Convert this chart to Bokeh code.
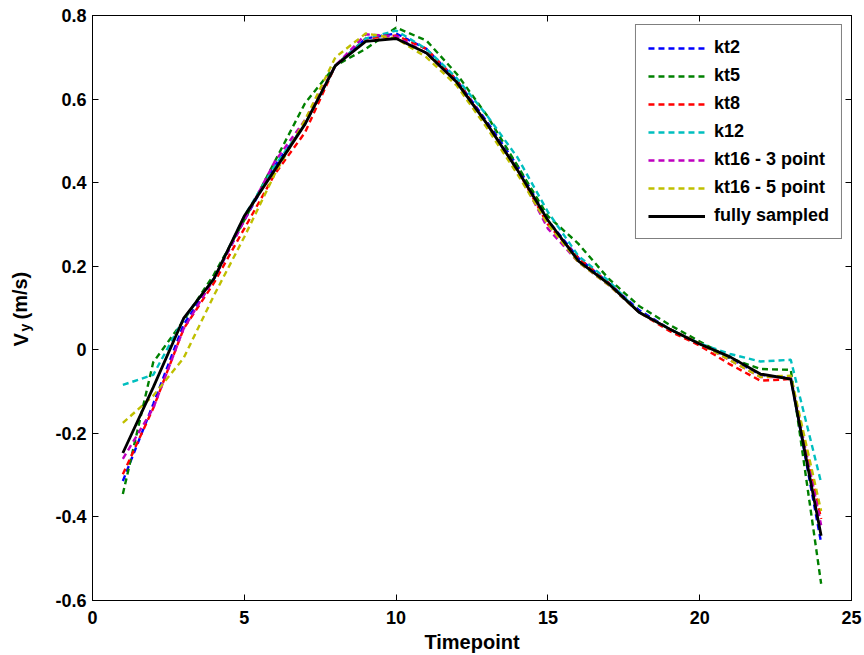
from bokeh.plotting import figure
from bokeh.layouts import row
from bokeh.models import (Legend, LegendItem, LinearAxis, FixedTicker, Range1d,
                          CustomJSTickFormatter, Label)
from bokeh.embed import file_html
from bokeh.resources import INLINE

timepoints = list(range(1, 25))
fully_sampled = [-0.247, -0.09, 0.075, 0.17, 0.32, 0.43, 0.54, 0.68, 0.738, 0.745, 0.71, 0.64,
                 0.54, 0.43, 0.31, 0.213, 0.158, 0.09, 0.05, 0.014, -0.017, -0.058, -0.07, -0.445]
kt2 = [-0.314, -0.13, 0.06, 0.17, 0.31, 0.44, 0.54, 0.68, 0.745, 0.757, 0.72, 0.645,
       0.545, 0.44, 0.31, 0.22, 0.16, 0.095, 0.05, 0.015, -0.02, -0.06, -0.068, -0.462]
kt5 = [-0.345, -0.03, 0.07, 0.18, 0.31, 0.45, 0.59, 0.68, 0.72, 0.771, 0.74, 0.66,
       0.56, 0.44, 0.32, 0.254, 0.17, 0.105, 0.06, 0.02, -0.02, -0.046, -0.048, -0.56]
kt8 = [-0.298, -0.14, 0.05, 0.16, 0.29, 0.42, 0.52, 0.68, 0.745, 0.752, 0.72, 0.645,
       0.54, 0.43, 0.30, 0.22, 0.16, 0.09, 0.045, 0.01, -0.035, -0.074, -0.07, -0.405]
k12 = [-0.084, -0.06, 0.074, 0.17, 0.32, 0.44, 0.54, 0.68, 0.745, 0.764, 0.72, 0.65,
       0.56, 0.46, 0.33, 0.225, 0.165, 0.09, 0.05, 0.015, -0.01, -0.028, -0.024, -0.318]
kt16_3 = [-0.261, -0.14, 0.05, 0.17, 0.31, 0.45, 0.55, 0.68, 0.755, 0.75, 0.71, 0.64,
          0.54, 0.43, 0.29, 0.21, 0.155, 0.09, 0.05, 0.015, -0.025, -0.065, -0.065, -0.42]
kt16_5 = [-0.175, -0.11, -0.02, 0.13, 0.27, 0.42, 0.55, 0.70, 0.757, 0.745, 0.70, 0.632,
          0.53, 0.42, 0.30, 0.21, 0.155, 0.09, 0.05, 0.015, -0.025, -0.065, -0.062, -0.386]

series_names = ["kt2", "kt5", "kt8", "k12", "kt16 - 3 point", "kt16 - 5 point", "fully sampled"]
series_values = [kt2, kt5, kt8, k12, kt16_3, kt16_5, fully_sampled]
series_colors = ["#0000FF", "#008000", "#FF0000", "#00BFBF", "#BF00BF", "#BFBF00", "#000000"]

x_ticks = [0, 5, 10, 15, 20, 25]
y_ticks = [-0.6, -0.4, -0.2, 0, 0.2, 0.4, 0.6, 0.8]

FONT = "Liberation Sans"
LEFT_W = 50

p = figure(width=864 - LEFT_W, height=655, output_backend="svg", toolbar_location=None,
           x_range=Range1d(0, 25), y_range=Range1d(-0.6, 0.8),
           min_border_left=92 - LEFT_W, min_border_right=13, min_border_top=15,
           min_border_bottom=55, x_axis_location=None, y_axis_location=None)
p.frame_width = 759
p.frame_height = 585
p.grid.visible = False
p.outline_line_color = "black"
p.outline_line_width = 1
p.background_fill_color = "white"
p.border_fill_color = "white"

fmt_y = CustomJSTickFormatter(code="return (Math.round(tick*10)/10).toString();")
fmt_none = CustomJSTickFormatter(code="return '';")


def make_axis(ticks, labels=True):
    ax = LinearAxis(ticker=FixedTicker(ticks=ticks))
    ax.major_tick_in = 6
    ax.major_tick_out = 0
    ax.minor_tick_line_color = None
    ax.axis_line_color = "black"
    ax.major_tick_line_color = "black"
    ax.major_label_text_font = FONT
    ax.major_label_text_font_style = "bold"
    ax.major_label_text_color = "black"
    ax.major_label_text_font_size = "18px"
    if not labels:
        ax.formatter = fmt_none
        ax.major_label_standoff = 0
    return ax


xb = make_axis(x_ticks)
xb.major_label_standoff = 10
xb.axis_label = "Timepoint"
xb.axis_label_text_font = FONT
xb.axis_label_text_font_style = "bold"
xb.axis_label_text_font_size = "20px"
xb.axis_label_text_color = "black"
xb.axis_label_standoff = 4
p.add_layout(xb, "below")

yl = make_axis(y_ticks)
yl.major_label_standoff = 6
yl.formatter = fmt_y
p.add_layout(yl, "left")

xt = make_axis(x_ticks, labels=False)
p.add_layout(xt, "above")
yr = make_axis(y_ticks, labels=False)
p.add_layout(yr, "right")

items = []
for name, vals, col in zip(series_names, series_values, series_colors):
    if name == "fully sampled":
        r = p.line(timepoints, vals, line_color=col, line_width=2.8)
    else:
        r = p.line(timepoints, vals, line_color=col, line_width=2.4, line_dash="6 4")
    items.append(LegendItem(label=name, renderers=[r]))

legend = Legend(items=items, location="top_right")
legend.margin = 9
legend.padding = 12
legend.spacing = 7
legend.glyph_width = 57
legend.glyph_height = 20
legend.label_height = 20
legend.label_standoff = 9
legend.label_text_font = FONT
legend.label_text_font_style = "bold"
legend.label_text_font_size = "18px"
legend.label_text_color = "black"
legend.border_line_color = "black"
legend.border_line_width = 1
legend.background_fill_color = "white"
legend.background_fill_alpha = 1
p.add_layout(legend, "center")

# narrow strip on the left carrying the y axis title: V with subscript y, then (m/s)
lab = figure(width=LEFT_W, height=655, output_backend="svg", toolbar_location=None,
             x_range=Range1d(0, LEFT_W), y_range=Range1d(0, 655),
             min_border=0, x_axis_location=None, y_axis_location=None)
lab.grid.visible = False
lab.outline_line_color = None
lab.background_fill_color = "white"
lab.border_fill_color = "white"

common = dict(x_units="screen", y_units="screen", angle=1.5708, text_font=FONT,
              text_font_style="bold", text_color="black", text_align="left",
              text_baseline="alphabetic")
lab.add_layout(Label(x=20, y=254, text="V", text_font_size="20px", **common))
lab.add_layout(Label(x=24, y=269, text="y", text_font_size="14px", **common))
lab.add_layout(Label(x=20, y=281, text="(m/s)", text_font_size="20px", **common))

layout = row(lab, p, spacing=0)
open("out.html", "w").write(file_html(layout, INLINE))
